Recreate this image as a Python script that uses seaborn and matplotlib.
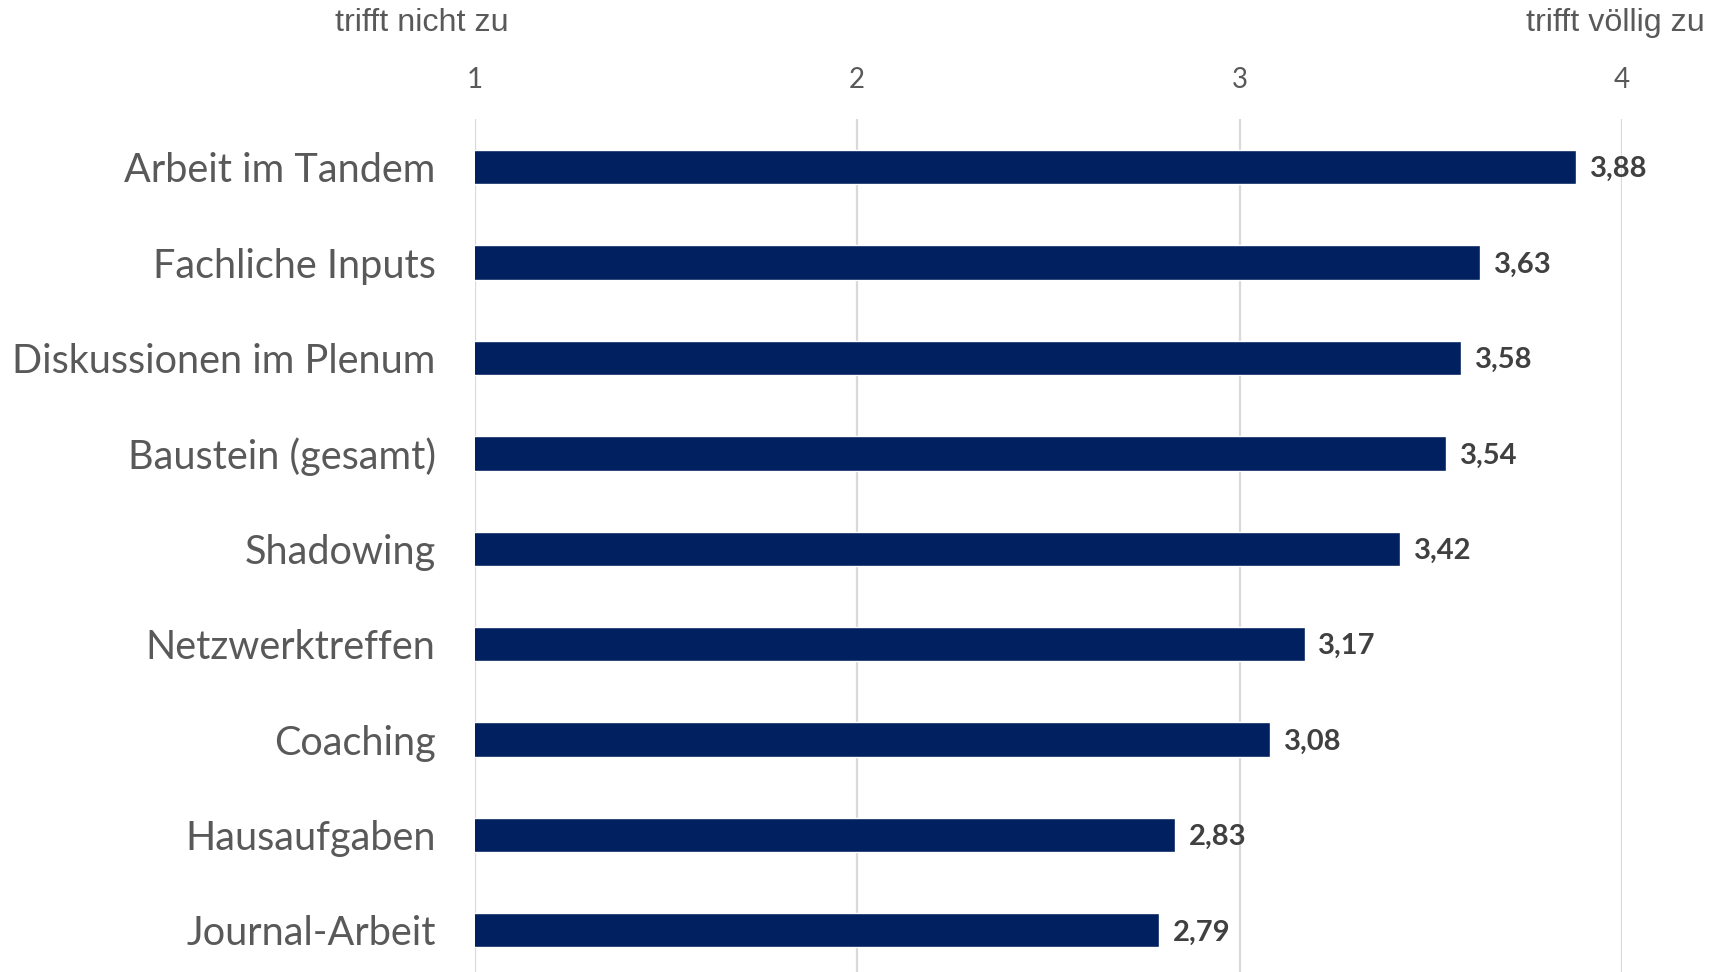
import matplotlib
matplotlib.use("Agg")
import matplotlib.pyplot as plt
import seaborn as sns
import pandas as pd

categories = ["Arbeit im Tandem", "Fachliche Inputs", "Diskussionen im Plenum",
              "Baustein (gesamt)", "Shadowing", "Netzwerktreffen", "Coaching",
              "Hausaufgaben", "Journal-Arbeit"]
values = [3.88, 3.63, 3.58, 3.54, 3.42, 3.17, 3.08, 2.83, 2.79]
tick_values = [1, 2, 3, 4]
tick_labels = ["1", "2", "3", "4"]
left_label = "trifft nicht zu"
right_label = "trifft völlig zu"

sns.set_theme(style="white")
plt.rcParams["font.family"] = ["Lato", "DejaVu Sans"]

df = pd.DataFrame({"Kategorie": categories, "Wert": values})

fig = plt.figure(figsize=(17.25, 9.72), dpi=100)
ax_top = 119.5 / 972
ax_bottom = 978 / 972
ax = fig.add_axes([0.2751, 1 - ax_bottom, 0.9403 - 0.2751, ax_bottom - ax_top])

sns.barplot(data=df, x="Wert", y="Kategorie", orient="h", color="#002060",
            saturation=1, width=0.36, ax=ax, zorder=3)

ax.set_xlim(1, 4)
ax.set_ylim(len(categories) - 0.5, -0.5)
ax.set_xticks(tick_values)
ax.set_xticklabels(tick_labels)
ax.xaxis.tick_top()
ax.tick_params(axis="x", length=0, pad=19, labelsize=20, labelcolor="#595959")
ax.tick_params(axis="y", length=0, pad=28, labelsize=28.5, labelcolor="#595959")
ax.set_xlabel("")
ax.set_ylabel("")
for s in ax.spines.values():
    s.set_visible(False)
ax.grid(False)
for t in tick_values:
    ax.axvline(t, color="#d9d9d9", lw=1.6, zorder=1)

for i, v in enumerate(values):
    ax.annotate(f"{v:.2f}".replace(".", ","), xy=(v, i), xytext=(10, -1.5),
                textcoords="offset points", ha="left", va="center",
                fontsize=21, fontweight="bold", color="#404040", zorder=4)

fig.text(422 / 1725, 1 - 23 / 972, left_label, ha="center", va="center",
         fontsize=23.2, color="#595959", family=["Liberation Sans", "DejaVu Sans"])
fig.text(1615 / 1725, 1 - 23 / 972, right_label, ha="center", va="center",
         fontsize=23.2, color="#595959", family=["Liberation Sans", "DejaVu Sans"])

fig.savefig("out.png", dpi=100)
